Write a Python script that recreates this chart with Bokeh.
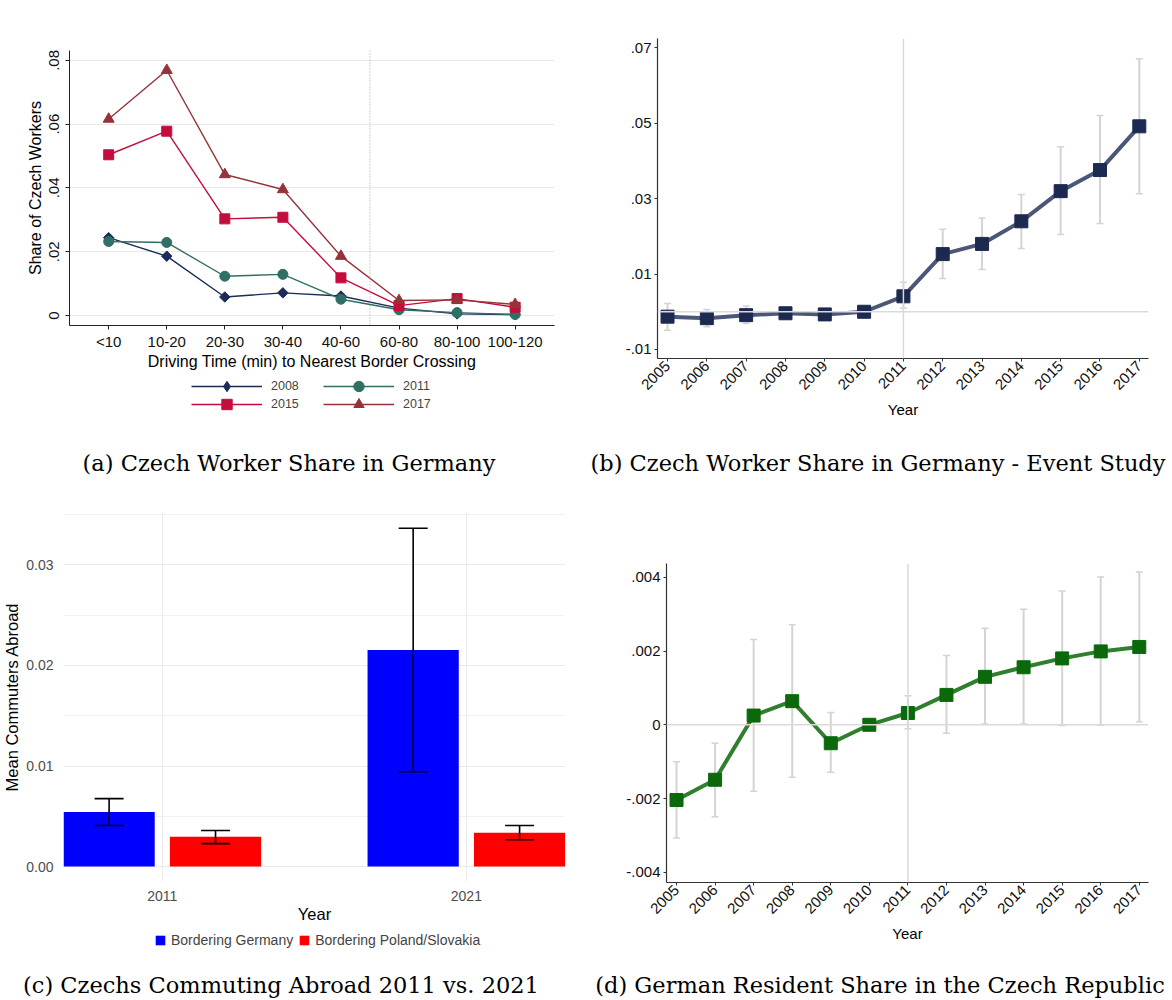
import math
from bokeh.plotting import figure
from bokeh.models import (ColumnDataSource, FixedTicker, Span, Legend, LegendItem,
                          Whisker, TeeHead, Div, Range1d)
from bokeh.layouts import column, row
from bokeh.embed import file_html
from bokeh.resources import INLINE

# ---------------- data ----------------
# (a) Czech worker share by driving time
drive_bins = ["<10", "10-20", "20-30", "30-40", "40-60", "60-80", "80-100", "100-120"]
share_2008 = [0.0244, 0.0186, 0.0058, 0.0071, 0.0061, 0.0023, 0.0005, 0.0003]
share_2011 = [0.0232, 0.0229, 0.0123, 0.0129, 0.0051, 0.0018, 0.0009, 0.0003]
share_2015 = [0.0504, 0.0578, 0.0303, 0.0308, 0.0118, 0.0031, 0.0053, 0.0026]
share_2017 = [0.0616, 0.0769, 0.0442, 0.0395, 0.0186, 0.0047, 0.0049, 0.0035]
a_series_names = ["2008", "2011", "2015", "2017"]
a_yticks = [0, 0.02, 0.04, 0.06, 0.08]
a_ylabels = ["0", ".02", ".04", ".06", ".08"]
a_cutoff = 4.5

# (b) event study, Czech worker share in Germany
event_years = list(range(2005, 2018))
b_coef = [-0.0013, -0.0017, -0.0009, -0.0004, -0.0007, 0.0, 0.0041, 0.0153, 0.0180, 0.0240, 0.0320, 0.0376, 0.0492]
b_lo = [-0.0049, -0.0040, -0.0031, -0.0019, -0.0020, 0.0, 0.0009, 0.0088, 0.0112, 0.0168, 0.0205, 0.0234, 0.0313]
b_hi = [0.0022, 0.0006, 0.0015, 0.0012, 0.0007, 0.0, 0.0078, 0.0219, 0.0249, 0.0311, 0.0438, 0.0521, 0.0671]
b_yticks = [-0.01, 0.01, 0.03, 0.05, 0.07]
b_ylabels = ["-.01", ".01", ".03", ".05", ".07"]
event_base_year = 2011

# (c) Czechs commuting abroad
c_years = ["2011", "2021"]
germany_mean = [0.00544, 0.02153]
germany_lo = [0.00409, 0.00943]
germany_hi = [0.00676, 0.03363]
polsk_mean = [0.00297, 0.00336]
polsk_lo = [0.00228, 0.00267]
polsk_hi = [0.00359, 0.00409]
c_yticks = [0.0, 0.01, 0.02, 0.03]
c_ylabels = ["0.00", "0.01", "0.02", "0.03"]
c_yminor = [0.005, 0.015, 0.025, 0.035]
c_groups = ["Bordering Germany", "Bordering Poland/Slovakia"]

# (d) German resident share in the Czech Republic
d_coef = [-0.00204, -0.00149, 0.00025, 0.00064, -0.00050, 0.0, 0.00032, 0.00081, 0.00130, 0.00156, 0.00180, 0.00199, 0.00211]
d_lo = [-0.00307, -0.00249, -0.00180, -0.00142, -0.00129, 0.0, -0.00011, -0.00023, 0.00002, 0.00002, -0.00002, -0.00001, 0.00008]
d_hi = [-0.00100, -0.00050, 0.00231, 0.00271, 0.00033, 0.0, 0.00079, 0.00188, 0.00262, 0.00313, 0.00363, 0.00401, 0.00414]
d_yticks = [-0.004, -0.002, 0.0, 0.002, 0.004]
d_ylabels = ["-.004", "-.002", "0", ".002", ".004"]

captions = ["(a) Czech Worker Share in Germany",
            "(b) Czech Worker Share in Germany - Event Study",
            "(c) Czechs Commuting Abroad 2011 vs. 2021",
            "(d) German Resident Share in the Czech Republic"]

SANS = "Liberation Sans"
SERIF = "DejaVu Serif"


def base_fig(width, height, xr, yr, bl, br, bt, bb):
    p = figure(width=width, height=height, output_backend="svg", toolbar_location=None,
               x_range=Range1d(*xr), y_range=Range1d(*yr),
               min_border_left=bl, min_border_right=br, min_border_top=bt, min_border_bottom=bb)
    p.outline_line_color = None
    p.background_fill_color = "white"
    p.border_fill_color = "white"
    p.margin = (0, 0, 0, 0)
    for ax in (p.xaxis, p.yaxis):
        ax.major_label_text_font = SANS
        ax.axis_label_text_font = SANS
        ax.axis_label_text_font_style = "normal"
        ax.axis_label_text_color = "#000000"
        ax.minor_tick_line_color = None
    return p


def legend_fig(width, height, bl, br):
    # strip under a panel that only holds its legend (same side borders as the panel);
    # its ranges lie away from the data, so only the legend keys show
    p = figure(width=width, height=height, output_backend="svg", toolbar_location=None,
               x_range=Range1d(100, 101), y_range=Range1d(100, 101),
               x_axis_location=None, y_axis_location=None,
               min_border_left=bl, min_border_right=br, min_border_top=0, min_border_bottom=0)
    p.grid.visible = False
    p.outline_line_color = None
    p.background_fill_color = "white"
    p.border_fill_color = "white"
    p.margin = (0, 0, 0, 0)
    return p


# ---------------- panel (a) ----------------
bin_index = list(range(len(drive_bins)))
pa = base_fig(590, 372, (-0.675, 7.678), (-0.00314, 0.0831), 69, 36, 50, 47)
pa.xgrid.grid_line_color = None
pa.ygrid.grid_line_color = "#e8e8e8"
pa.ygrid.grid_line_width = 1.2
pa.xaxis.ticker = FixedTicker(ticks=bin_index)
pa.xaxis.major_label_overrides = dict(zip(bin_index, drive_bins))
pa.yaxis.ticker = FixedTicker(ticks=a_yticks)
pa.yaxis.major_label_overrides = dict(zip(a_yticks, a_ylabels))
pa.yaxis.major_label_orientation = "vertical"
for ax in (pa.xaxis, pa.yaxis):
    ax.axis_line_color = "#222222"
    ax.major_tick_line_color = "#222222"
    ax.major_tick_out = 4
    ax.major_tick_in = 0
    ax.major_label_text_font_size = "15px"
    ax.axis_label_text_font_size = "16px"
    ax.major_label_text_color = "#111111"
pa.xaxis.major_label_standoff = 3
pa.yaxis.major_label_standoff = 6
pa.xaxis.axis_label = "Driving Time (min) to Nearest Border Crossing"
pa.yaxis.axis_label = "Share of Czech Workers"
pa.xaxis.axis_label_standoff = 0
pa.yaxis.axis_label_standoff = 3
pa.add_layout(Span(location=a_cutoff, dimension="height", line_color="#a0a0a0",
                   line_dash="1 2", line_width=1))

# colour, plot marker, plot marker size, plot marker angle, legend-key marker
a_style = [("#1c2b5a", "square", 7.4, math.pi / 4, "diamond"),
           ("#2f6f64", "circle", 10, 0.0, "circle"),
           ("#c40d3c", "square", 10, 0.0, "square"),
           ("#963239", "triangle", 11, 0.0, "triangle")]
lfa = legend_fig(590, 75, 69, 36)
a_items = []
for name, vals, (col, mk, sz, ang, key_mk) in zip(a_series_names,
                                                 [share_2008, share_2011, share_2015, share_2017],
                                                 a_style):
    src = ColumnDataSource(dict(x=bin_index, y=vals))
    pa.line("x", "y", source=src, line_color=col, line_width=1.4)
    pa.scatter("x", "y", source=src, marker=mk, size=sz, angle=ang, fill_color=col, line_color=col)
    kl = lfa.line("x", "y", source=src, line_color=col, line_width=1.4)
    km = lfa.scatter("x", "y", source=src, marker=key_mk, size=sz, fill_color=col, line_color=col)
    a_items.append(LegendItem(label=name, renderers=[kl, km]))

# two legend rows: (2008, 2011) above (2015, 2017)
for items, vy in ((a_items[:2], 48), (a_items[2:], 30)):
    lfa.add_layout(Legend(items=items, location=(122, vy), orientation="horizontal",
                          glyph_width=71, glyph_height=26, label_width=48, label_height=26,
                          label_standoff=9, spacing=4, padding=0, margin=0,
                          border_line_color=None, background_fill_alpha=0,
                          label_text_font=SANS, label_text_font_size="12.5px"))


# ---------------- panels (b) and (d) ----------------
def event_fig(height, xr, yr, bl, bt, bb, coef, lo, hi, yticks, ylabels, line_col, mk_col):
    p = base_fig(582, height, xr, yr, bl, 24, bt, bb)
    p.xgrid.grid_line_color = None
    p.ygrid.grid_line_color = None
    p.xaxis.ticker = FixedTicker(ticks=event_years)
    p.xaxis.major_label_orientation = math.pi / 4
    p.yaxis.ticker = FixedTicker(ticks=yticks)
    p.yaxis.major_label_overrides = dict(zip(yticks, ylabels))
    for ax in (p.xaxis, p.yaxis):
        ax.axis_line_color = "#333333"
        ax.axis_line_width = 1.2
        ax.major_tick_line_color = "#333333"
        ax.major_tick_out = 3
        ax.major_tick_in = 0
        ax.major_label_text_font_size = "15px"
        ax.major_label_text_color = "#111111"
        ax.axis_label_text_font_size = "15px"
    p.yaxis.major_label_standoff = 3
    p.xaxis.major_label_standoff = 2
    p.xaxis.axis_label = "Year"
    p.xaxis.axis_label_standoff = 4
    p.add_layout(Span(location=event_base_year, dimension="height", line_color="#dadada", line_width=1.5))
    p.add_layout(Span(location=0, dimension="width", line_color="#dadada", line_width=1.5))
    src = ColumnDataSource(dict(x=event_years, y=coef, lo=lo, hi=hi))
    wh = Whisker(source=src, base="x", lower="lo", upper="hi", line_color="#d4d4d4", line_width=2,
                 lower_head=TeeHead(size=7, line_color="#d4d4d4", line_width=1.5),
                 upper_head=TeeHead(size=7, line_color="#d4d4d4", line_width=1.5), level="underlay")
    p.add_layout(wh)
    p.line("x", "y", source=src, line_color=line_col, line_width=4)
    p.scatter("x", "y", source=src, marker="square", size=13, fill_color=mk_col, line_color=mk_col)
    return p


pb = event_fig(447, (2004.745, 2017.234), (-0.0124, 0.0725), 67, 38, 89,
               b_coef, b_lo, b_hi, b_yticks, b_ylabels, "#4c5678", "#1d2a50")
pd_ = event_fig(490, (2004.74, 2017.239), (-0.004276, 0.004373), 76, 83, 88,
                d_coef, d_lo, d_hi, d_yticks, d_ylabels, "#2f7f2f", "#0b690b")

# ---------------- panel (c) ----------------
group_pos = [i + 1 for i in range(len(c_years))]
dodge = 0.175
pc = base_fig(590, 445, (0.675, 2.326), (-0.00148, 0.0352), 61, 25, 32, 42)
pc.xaxis.ticker = FixedTicker(ticks=group_pos)
pc.xaxis.major_label_overrides = dict(zip(group_pos, c_years))
pc.yaxis.ticker = FixedTicker(ticks=c_yticks, minor_ticks=c_yminor)
pc.yaxis.major_label_overrides = dict(zip(c_yticks, c_ylabels))
for ax in (pc.xaxis, pc.yaxis):
    ax.axis_line_color = None
    ax.major_tick_line_color = None
    ax.major_label_text_font_size = "14px"
    ax.major_label_text_color = "#4d4d4d"
    ax.axis_label_text_font_size = "16.5px"
pc.xaxis.major_label_standoff = 3
pc.yaxis.major_label_standoff = 4
pc.xaxis.axis_label = "Year"
pc.yaxis.axis_label = "Mean Commuters Abroad"
pc.xaxis.axis_label_standoff = 1
pc.yaxis.axis_label_standoff = 2
pc.xgrid.grid_line_color = "#ebebeb"
pc.ygrid.grid_line_color = "#ebebeb"
pc.ygrid.minor_grid_line_color = "#f1f1f1"
pc.xgrid.grid_line_width = 1.1
pc.ygrid.grid_line_width = 1.1

src_g = ColumnDataSource(dict(x=[g - dodge for g in group_pos], top=germany_mean, lo=germany_lo, hi=germany_hi))
src_p = ColumnDataSource(dict(x=[g + dodge for g in group_pos], top=polsk_mean, lo=polsk_lo, hi=polsk_hi))
pc.vbar(x="x", top="top", bottom=0, width=0.3, source=src_g, fill_color="#0000ff", line_color=None)
pc.vbar(x="x", top="top", bottom=0, width=0.3, source=src_p, fill_color="#ff0000", line_color=None)
for s in (src_g, src_p):
    pc.add_layout(Whisker(source=s, base="x", lower="lo", upper="hi", line_color="black", line_width=1.6,
                          lower_head=TeeHead(size=29, line_color="black", line_width=1.6),
                          upper_head=TeeHead(size=29, line_color="black", line_width=1.6),
                          level="overlay"))
lfc = legend_fig(590, 45, 61, 25)
kg = lfc.vbar(x="x", top="top", bottom=0, width=0.3, source=src_g, fill_color="#0000ff", line_color=None)
kp = lfc.vbar(x="x", top="top", bottom=0, width=0.3, source=src_p, fill_color="#ff0000", line_color=None)
leg_c = Legend(items=[LegendItem(label=c_groups[0], renderers=[kg]),
                      LegendItem(label=c_groups[1], renderers=[kp])],
               location=(91, 22), orientation="horizontal",
               glyph_width=12, glyph_height=12, label_height=12, label_standoff=5, spacing=5,
               padding=0, margin=0, border_line_color=None, background_fill_alpha=0,
               label_text_font=SANS, label_text_font_size="14px")
lfc.add_layout(leg_c)


# ---------------- captions ----------------
def caption(text, width, height, dx):
    html = ('<div style="width:%dpx;text-align:center;font-family:\'%s\';font-size:22.5px;'
            'line-height:%dpx;white-space:nowrap;color:#000;position:relative;left:%dpx">%s</div>'
            % (width, SERIF, height, dx, text))
    return Div(text=html, width=width, height=height, margin=(0, 0, 0, 0))


cap_a = caption(captions[0], 590, 33, -6)
cap_b = caption(captions[1], 582, 33, -3)
cap_c = caption(captions[2], 590, 30, -14)
cap_d = caption(captions[3], 582, 30, -1)

layout = column(row(column(pa, lfa, cap_a, spacing=0), column(pb, cap_b, spacing=0), spacing=0),
                row(column(pc, lfc, cap_c, spacing=0), column(pd_, cap_d, spacing=0), spacing=0),
                spacing=0)

open("out.html", "w").write(file_html(layout, INLINE))
